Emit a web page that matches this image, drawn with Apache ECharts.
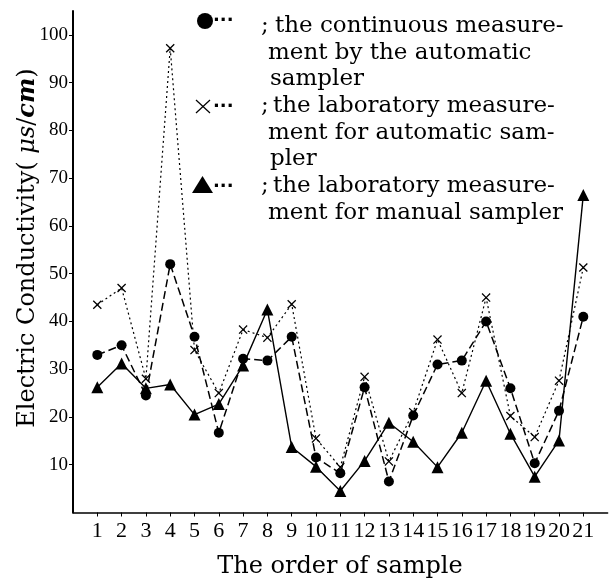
<!DOCTYPE html>
<html>
<head>
    <meta charset="utf-8">
    <title>Electric Conductivity</title>
    <script src="https://cdn.jsdelivr.net/npm/echarts@6/dist/echarts.min.js"></script>
</head>
<body style="margin:0">
    <div id="main" style="width:610px;height:578px;"></div>
    <script type="text/javascript">
        // sample order 1..21
        var samples = [1, 2, 3, 4, 5, 6, 7, 8, 9, 10, 11, 12, 13, 14, 15, 16, 17, 18, 19, 20, 21];
        // ● continuous measurement by the automatic sampler
        var continuous = [33, 35, 24.5, 52, 36.8, 16.7, 32.2, 31.8, 36.8, 11.5, 8.2, 26.2, 6.5, 20.3, 31, 31.8, 40, 26, 10.3, 21.3, 41];
        // × laboratory measurement for automatic sampler
        var labAuto = [43.5, 47, 28, 97.2, 34, 25, 38.3, 36.6, 43.6, 15.5, 9.5, 28.4, 10.7, 21, 36.2, 25, 45, 20.2, 15.8, 27.6, 51.3];
        // ▲ laboratory measurement for manual sampler
        var labManual = [26.2, 31.2, 26, 26.8, 20.5, 22.7, 30.8, 42.5, 13.7, 9.6, 4.5, 10.8, 18.8, 14.8, 9.5, 16.7, 27.6, 16.5, 7.5, 15.1, 66.5];
        var yTicks = [10, 20, 30, 40, 50, 60, 70, 80, 90, 100];

        var legendLines = [
            ['the continuous measure-', 'ment by the automatic', 'sampler'],
            ['the laboratory measure-', 'ment for automatic sam-', 'pler'],
            ['the laboratory measure-', 'ment for manual sampler']
        ];

        function pairs(vals) {
            return samples.map(function (s, i) { return [s, vals[i]]; });
        }

        var crossPath = 'path://M0,1L1,0L5,4L9,0L10,1L6,5L10,9L9,10L5,6L1,10L0,9L4,5Z';
        var serif = 'DejaVu Serif';

        // legend drawn as free text like the original figure
        var graphics = [];
        var lineX = [[275, 268, 270], [273, 268, 270], [273, 268]];
        var iconY = [21, 107, 187];
        var lineY0 = 26, lineStep = 26.7, row = 0;
        legendLines.forEach(function (lines, k) {
            var cy = lineY0 + row * lineStep;
            graphics.push({ type: 'text', x: 213, y: iconY[k], style: { text: '···', font: 'bold 18px DejaVu Sans', fill: '#000', verticalAlign: 'middle' } });
            graphics.push({ type: 'text', x: 261, y: cy, style: { text: ';', font: '23px ' + serif, fill: '#000', verticalAlign: 'middle' } });
            lines.forEach(function (t, j) {
                graphics.push({
                    type: 'text', x: lineX[k][j], y: lineY0 + (row + j) * lineStep,
                    style: { text: t, font: '23px ' + serif, fill: '#000', verticalAlign: 'middle' }
                });
            });
            row += lines.length;
        });
        graphics.push({ type: 'circle', shape: { cx: 205, cy: 21, r: 8 }, style: { fill: '#000' } });
        graphics.push({ type: 'line', shape: { x1: 196, y1: 100, x2: 210, y2: 113 }, style: { stroke: '#000', lineWidth: 1.2 } });
        graphics.push({ type: 'line', shape: { x1: 210, y1: 100, x2: 196, y2: 113 }, style: { stroke: '#000', lineWidth: 1.2 } });
        graphics.push({ type: 'polygon', shape: { points: [[192, 193], [213, 193], [202.5, 176]] }, style: { fill: '#000' } });

        // axis titles
        graphics.push({
            type: 'text', x: 340, y: 567,
            style: { text: 'The order of sample', font: '24px ' + serif, fill: '#000', align: 'center', verticalAlign: 'middle' }
        });
        graphics.push({
            type: 'text', x: 28, y: 248, rotation: Math.PI / 2,
            style: {
                text: '{a|Electric Conductivity( }{i|μs}{a|/}{b|cm}{a|)}',
                align: 'center', verticalAlign: 'middle',
                rich: {
                    a: { fontFamily: serif, fontSize: 24, fill: '#000' },
                    i: { fontFamily: serif, fontSize: 24, fontStyle: 'italic', fill: '#000' },
                    b: { fontFamily: serif, fontSize: 24, fontStyle: 'italic', fontWeight: 'bold', fill: '#000' }
                }
            }
        });

        var myChart = echarts.init(document.getElementById('main'));
        var option = {
            animation: false,
            backgroundColor: '#fff',
            grid: { left: 73, top: 11, width: 534.6, height: 501.5 },
            xAxis: {
                type: 'value', min: 0, max: 22,
                splitLine: { show: false },
                axisLine: { lineStyle: { color: '#000', width: 1.5 } },
                axisTick: { customValues: samples, length: 4, lineStyle: { color: '#000' } },
                axisLabel: { customValues: samples, color: '#000', fontFamily: 'Liberation Serif', fontSize: 22, margin: 8 }
            },
            yAxis: {
                type: 'value', min: 0, max: 105,
                splitLine: { show: false },
                axisLine: { show: true, lineStyle: { color: '#000', width: 2 } },
                axisTick: { show: true, customValues: yTicks, length: 4, lineStyle: { color: '#000' } },
                axisLabel: { customValues: yTicks, color: '#000', fontFamily: 'Liberation Serif', fontSize: 19, margin: 5 }
            },
            graphic: graphics,
            series: [{
                name: 'continuous',
                type: 'line',
                data: pairs(continuous),
                symbol: 'circle', symbolSize: 10,
                itemStyle: { color: '#000' },
                lineStyle: { color: '#000', width: 1.5, type: [8, 4] }
            }, {
                name: 'laboratory (automatic)',
                type: 'line',
                data: pairs(labAuto),
                symbol: crossPath, symbolSize: 9,
                itemStyle: { color: '#000' },
                lineStyle: { color: '#000', width: 1.2, type: [2, 3] }
            }, {
                name: 'laboratory (manual)',
                type: 'line',
                data: pairs(labManual),
                symbol: 'triangle', symbolSize: 12,
                itemStyle: { color: '#000' },
                lineStyle: { color: '#000', width: 1.4 }
            }]
        };
        myChart.setOption(option);
    </script>
</body>
</html>
